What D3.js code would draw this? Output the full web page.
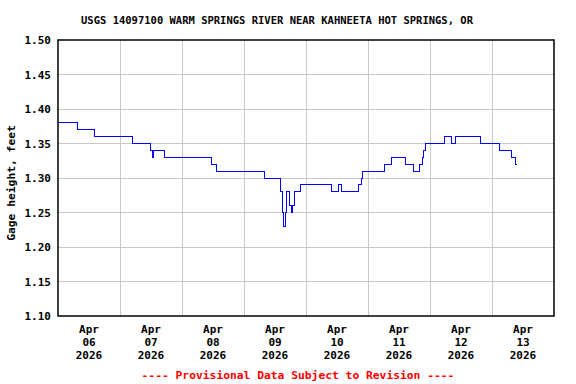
<!DOCTYPE html>
<html lang="en">
<head>
<meta charset="utf-8">
<title>USGS 14097100 Gage height</title>
<script src="https://cdn.jsdelivr.net/npm/d3@7"></script>
<style>
  body { margin: 0; background: #fff; }
  text { font-family: "DejaVu Sans Mono", monospace; font-weight: bold; }
</style>
</head>
<body></body>
<script type="text/javascript">

//****************************************************************//
// Data (time of each level change, level)

var changeTimes = [
    "2026-04-06 00:00", "2026-04-06 07:30", "2026-04-06 14:00", "2026-04-07 04:45",
    "2026-04-07 11:45", "2026-04-07 12:30", "2026-04-07 13:00", "2026-04-07 17:15",
    "2026-04-08 11:30", "2026-04-08 13:15", "2026-04-09 08:00", "2026-04-09 14:15",
    "2026-04-09 14:45", "2026-04-09 15:15", "2026-04-09 16:00", "2026-04-09 16:30",
    "2026-04-09 17:30", "2026-04-09 18:15", "2026-04-09 18:45", "2026-04-09 19:30",
    "2026-04-09 22:00", "2026-04-10 09:45", "2026-04-10 12:30", "2026-04-10 13:45",
    "2026-04-10 20:15", "2026-04-10 21:30", "2026-04-10 22:00", "2026-04-11 06:30",
    "2026-04-11 09:00", "2026-04-11 14:30", "2026-04-11 17:30", "2026-04-11 20:00",
    "2026-04-11 21:00", "2026-04-11 21:30", "2026-04-11 22:15", "2026-04-12 05:30",
    "2026-04-12 08:30", "2026-04-12 10:00", "2026-04-12 19:30", "2026-04-13 02:45",
    "2026-04-13 07:30", "2026-04-13 09:00", "2026-04-13 09:45"
];

var gageHeight = [
    1.38, 1.37, 1.36, 1.35,
    1.34, 1.33, 1.34, 1.33,
    1.32, 1.31, 1.30, 1.28,
    1.25, 1.23, 1.25, 1.28,
    1.26, 1.25, 1.26, 1.28,
    1.29, 1.28, 1.29, 1.28,
    1.29, 1.30, 1.31, 1.32,
    1.33, 1.32, 1.31, 1.32,
    1.33, 1.34, 1.35, 1.36,
    1.35, 1.36, 1.35, 1.34,
    1.33, 1.32, 1.32
];

var yTicks = [1.10, 1.15, 1.20, 1.25, 1.30, 1.35, 1.40, 1.45, 1.50];
var dayLabels = ["06", "07", "08", "09", "10", "11", "12", "13"];

var title = "USGS 14097100 WARM SPRINGS RIVER NEAR KAHNEETA HOT SPRINGS, OR";
var yLabel = "Gage height, feet";
var footer = "---- Provisional Data Subject to Revision ----";

//****************************************************************//
// Canvas

var width = 576,
    height = 384;

var plotLeft = 58, plotRight = 554, plotTop = 40, plotBottom = 316;

var parseTime = d3.timeParse("%Y-%m-%d %H:%M");

var data = changeTimes.map(function(t, i){
    return { time: parseTime(t), value: gageHeight[i] };
});

var canvas = d3.select("body")
            .append("svg")
            .attr("width", width)
            .attr("height", height);

var xScale = d3.scaleTime()
            .domain([parseTime("2026-04-06 00:00"), parseTime("2026-04-14 00:00")])
            .range([plotLeft, plotRight]);

var yScale = d3.scaleLinear()
            .domain([1.10, 1.50])
            .range([plotBottom, plotTop]);

//****************************************************************//
// Grid

var dayBounds = d3.timeDay.range(parseTime("2026-04-07 00:00"), parseTime("2026-04-14 00:00"));

canvas.append("g")
    .selectAll("line")
    .data(dayBounds)
    .join("line")
    .attr("x1", function(d){ return xScale(d); })
    .attr("x2", function(d){ return xScale(d); })
    .attr("y1", plotTop)
    .attr("y2", plotBottom)
    .attr("stroke", "#c8c8c8")
    .attr("shape-rendering", "crispEdges");

canvas.append("g")
    .selectAll("line")
    .data(yTicks.slice(1, -1))
    .join("line")
    .attr("x1", plotLeft)
    .attr("x2", plotRight)
    .attr("y1", function(d){ return yScale(d); })
    .attr("y2", function(d){ return yScale(d); })
    .attr("stroke", "#c8c8c8")
    .attr("shape-rendering", "crispEdges");

//****************************************************************//
// Series

var line = d3.line()
    .x(function(d){ return xScale(d.time); })
    .y(function(d){ return yScale(d.value); })
    .curve(d3.curveStepAfter);

canvas.append("path")
    .datum(data)
    .attr("d", line)
    .attr("fill", "none")
    .attr("stroke", "#0000ff")
    .attr("stroke-width", 1)
    .attr("shape-rendering", "crispEdges");

canvas.append("rect")
    .attr("x", plotLeft)
    .attr("y", plotTop)
    .attr("width", plotRight - plotLeft)
    .attr("height", plotBottom - plotTop)
    .attr("fill", "none")
    .attr("stroke", "#000")
    .attr("stroke-width", 1.5);

//****************************************************************//
// Axes

var yAxis = d3.axisLeft(yScale)
    .tickValues(yTicks)
    .tickFormat(d3.format(".2f"))
    .tickSize(0)
    .tickPadding(7);

canvas.append("g")
    .attr("transform", "translate(" + plotLeft + ",0)")
    .call(yAxis)
    .call(function(g){ g.select(".domain").remove(); })
    .selectAll("text")
    .attr("font-family", "DejaVu Sans Mono")
    .attr("font-weight", "bold")
    .attr("font-size", 11)
    .attr("fill", "#000");

var noon = dayLabels.map(function(d){ return parseTime("2026-04-" + d + " 12:00"); });

var xLabels = canvas.append("g")
    .selectAll("text")
    .data(noon)
    .join("text")
    .attr("text-anchor", "middle")
    .attr("font-size", 11)
    .attr("fill", "#000");

xLabels.each(function(d, i){
    var t = d3.select(this);
    var x = xScale(d);
    ["Apr", dayLabels[i], "2026"].forEach(function(s, k){
        t.append("tspan").attr("x", x).attr("y", 333 + k * 13).text(s);
    });
});

//****************************************************************//
// Text

canvas.append("text")
    .attr("x", 277)
    .attr("y", 24)
    .attr("text-anchor", "middle")
    .attr("font-size", 10.5)
    .text(title);

canvas.append("text")
    .attr("transform", "translate(15,183) rotate(-90)")
    .attr("text-anchor", "middle")
    .attr("font-size", 11.3)
    .text(yLabel);

canvas.append("text")
    .attr("x", 298)
    .attr("y", 379)
    .attr("text-anchor", "middle")
    .attr("font-size", 11.3)
    .attr("fill", "#ff0000")
    .text(footer);

</script>
</html>
